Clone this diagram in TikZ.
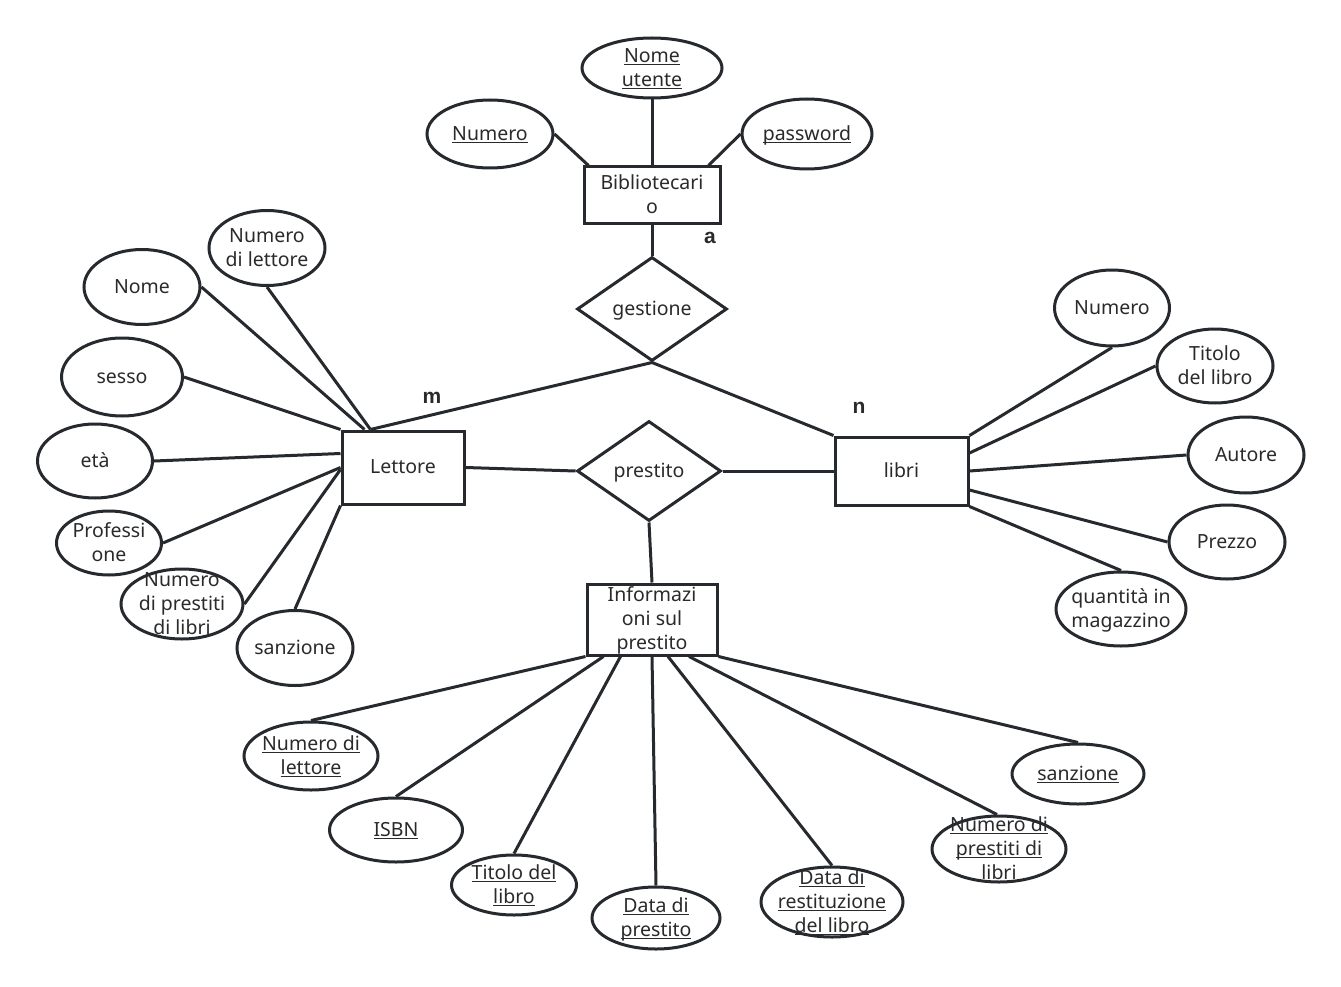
\documentclass[tikz,border=0pt]{standalone}
\usepackage{fontspec}
\setmainfont{Noto Sans}
\newfontfamily\cardfont{Liberation Sans}
\usetikzlibrary{shapes.geometric,calc}
\definecolor{ln}{HTML}{262A2E}
\definecolor{tx}{HTML}{2A2A2A}
\newlength\ulwd
\newcommand\ulx[1]{\settowidth\ulwd{#1}\rlap{\color{tx}\rule[-2.8pt]{\ulwd}{1.2pt}}#1}
\newcommand\zt[1]{\makebox[0pt]{\raisebox{-13pt}{\smash{\begin{tabular}{@{}c@{}}#1\end{tabular}}}}}
\tikzset{
  base/.style={draw=ln,line width=3pt,inner sep=0pt,text=tx,font=\fontsize{19.5}{24}\selectfont},
  attr/.style={ellipse,base},
  ent/.style={rectangle,base},
  rel/.style={diamond,base},
  card/.style={text=tx,font=\cardfont\bfseries\fontsize{21}{24}\selectfont},
  conn/.style={draw=ln,line width=3pt}
}
\begin{document}
\begin{tikzpicture}[x=1pt,y=-1pt]
\useasboundingbox[fill=white] (0,0) rectangle (1341,987);
% entities
\node[ent,minimum width=136,minimum height=57] (bib) at (652,195.5) {\zt{Bibliotecari\\o}};
\node[ent,minimum width=122,minimum height=73] (let) at (403,467.5) {\zt{Lettore}};
\node[ent,minimum width=133,minimum height=68] (lib) at (901.5,471) {\zt{libri}};
\node[ent,minimum width=130,minimum height=71] (inf) at (652,619.5) {\zt{Informazi\\oni sul\\prestito}};
% relations
\node[rel,minimum width=150,minimum height=104] (ges) at (652,309) {\zt{gestione}};
\node[rel,minimum width=144,minimum height=100] (pre) at (649,471) {\zt{prestito}};
% cardinalities
\node[card] (ca) at (710,238) {a};
\node[card] (cm) at (432,398) {m};
\node[card] (cn) at (859,408) {n};
% top attributes
\node[attr,minimum width=140,minimum height=60] (bnu) at (652,68) {\zt{\ulx{Nome}\\\ulx{utente}}};
\node[attr,minimum width=126,minimum height=68] (bnum) at (490,134) {\zt{\ulx{Numero}}};
\node[attr,minimum width=130,minimum height=70] (bpw) at (807,134) {\zt{\ulx{password}}};
% left attributes
\node[attr,minimum width=116,minimum height=75] (lnl) at (267,248) {\zt{Numero\\di lettore}};
\node[attr,minimum width=116,minimum height=75] (lnome) at (142,287) {\zt{Nome}};
\node[attr,minimum width=121,minimum height=78] (lses) at (122,377) {\zt{sesso}};
\node[attr,minimum width=115,minimum height=74] (leta) at (95,461) {\zt{età}};
\node[attr,minimum width=105,minimum height=64] (lpro) at (109,543) {\zt{Professi\\one}};
\node[attr,minimum width=122,minimum height=70] (lnp) at (182,604) {\zt{Numero\\di prestiti\\di libri}};
\node[attr,minimum width=116,minimum height=75] (lsan) at (295,648) {\zt{sanzione}};
% right attributes
\node[attr,minimum width=115,minimum height=76] (rnum) at (1112,308) {\zt{Numero}};
\node[attr,minimum width=116,minimum height=74] (rtit) at (1215,366) {\zt{Titolo\\del libro}};
\node[attr,minimum width=116,minimum height=76] (raut) at (1246,455) {\zt{Autore}};
\node[attr,minimum width=116,minimum height=74] (rpre) at (1227,542) {\zt{Prezzo}};
\node[attr,minimum width=130,minimum height=74] (rqua) at (1121,609) {\zt{quantità in\\magazzino}};
% bottom attributes
\node[attr,minimum width=134,minimum height=68] (inl) at (311,756) {\zt{\ulx{Numero di}\\\ulx{lettore}}};
\node[attr,minimum width=133,minimum height=64] (iisbn) at (396,830) {\zt{\ulx{ISBN}}};
\node[attr,minimum width=125,minimum height=60] (itit) at (514,885) {\zt{\ulx{Titolo del}\\\ulx{libro}}};
\node[attr,minimum width=128,minimum height=62] (idp) at (656,918) {\zt{\ulx{Data di}\\\ulx{prestito}}};
\node[attr,minimum width=142,minimum height=70] (idr) at (832,902) {\zt{\ulx{Data di}\\\ulx{restituzione}\\\ulx{del libro}}};
\node[attr,minimum width=134,minimum height=66] (inp) at (999,849) {\zt{\ulx{Numero di}\\\ulx{prestiti di}\\\ulx{libri}}};
\node[attr,minimum width=132,minimum height=60] (isan) at (1078,774) {\zt{\ulx{sanzione}}};
% connectors top
\draw[conn] (bnum.east) -- ($(bib.north west)+(6,0)$);
\draw[conn] (bnu.south) -- (bib.north);
\draw[conn] (bpw.west) -- ($(bib.north east)+(-13,0)$);
\draw[conn] (bib.south) -- (ges.north);
% relations
\draw[conn] ($(let.north west)+(30,0)$) -- (ges.south) -- (lib.north west);
\draw[conn] (let.east) -- (pre.west);
\draw[conn] (pre.east) -- (lib.west);
\draw[conn] (pre.south) -- (inf.north);
% left
\draw[conn] (lnl.south) -- ($(let.north west)+(30,0)$);
\draw[conn] (lnome.east) -- ($(let.north west)+(24,0)$);
\draw[conn] (lses.east) -- (let.north west);
\draw[conn] (leta.east) -- ($(let.west)+(0,-14)$);
\draw[conn] (lpro.east) -- ($(let.west)+(0,0)$);
\draw[conn] (lnp.east) -- ($(let.west)+(0,2)$);
\draw[conn] (lsan.north) -- (let.south west);
% right
\draw[conn] (rnum.south) -- (lib.north east);
\draw[conn] (rtit.west) -- ($(lib.east)+(0,-18)$);
\draw[conn] (raut.west) -- (lib.east);
\draw[conn] (rpre.west) -- ($(lib.east)+(0,19)$);
\draw[conn] (rqua.north) -- (lib.south east);
% bottom
\draw[conn] (inl.north) -- (inf.south west);
\draw[conn] (iisbn.north) -- ($(inf.south west)+(18,0)$);
\draw[conn] (itit.north) -- ($(inf.south west)+(35,0)$);
\draw[conn] (idp.north) -- (inf.south);
\draw[conn] (idr.north) -- ($(inf.south)+(16,0)$);
\draw[conn] ($(inp.north)+(-2,0)$) -- ($(inf.south)+(37,0)$);
\draw[conn] (isan.north) -- (inf.south east);
\end{tikzpicture}
\end{document}
